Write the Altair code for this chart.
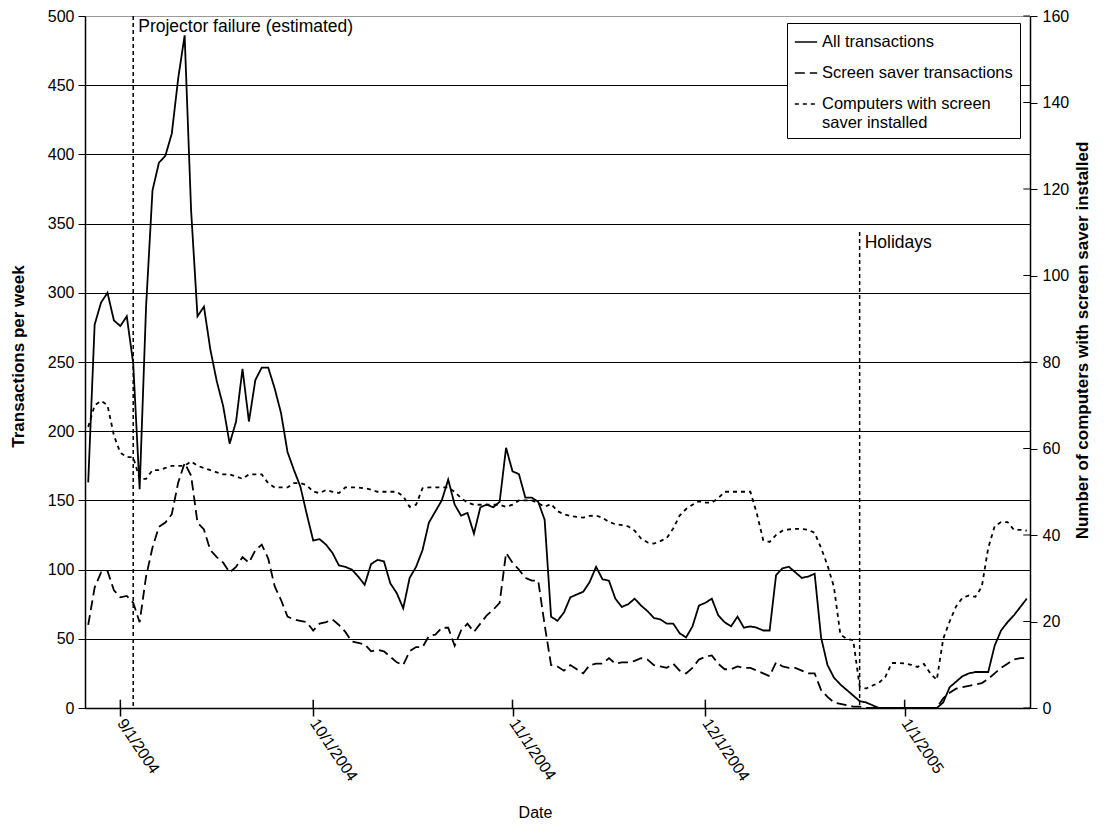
import altair as alt
import pandas as pd

# ---- data (daily values, first day 2004-08-27) ----
start_date = "2004-08-27"

all_tx = [
    163, 277, 293, 300, 280, 276, 283, 249, 158, 290,
    374, 394, 399, 415, 455, 486, 360, 283, 290, 259,
    236, 218, 191, 207, 245, 207, 237, 246, 246, 231,
    213, 185, 172, 160, 140, 121, 122, 118, 112, 103,
    102, 100, 95, 89, 104, 107, 106, 90, 83, 72,
    94, 102, 114, 134, 142, 150, 165, 147, 139, 141,
    126, 145, 147, 145, 149, 188, 171, 169, 152, 152,
    149, 136, 66, 63, 69, 80, 82, 84, 91, 102,
    93, 92, 79, 73, 75, 79, 74, 70, 65, 64,
    61, 61, 54, 51, 59, 74, 76, 79, 67, 62,
    59, 66, 58, 59, 58, 56, 56, 96, 101, 102,
    98, 94, 95, 97, 51, 31, 22, 17, 13, 9,
    5, 4, 2, 0, 0, 0, 0, 0, 0, 0,
    0, 0, 0, 4, 15, 19, 23, 25, 26, 26,
    26, 45, 56, 62, 67, 73, 79,
]

screen_tx = [
    60, 87, 98, 99, 85, 80, 81, 76, 62, 95,
    116, 131, 134, 140, 163, 177, 168, 134, 129, 114,
    109, 105, 98, 102, 109, 105, 114, 118, 108, 88,
    78, 66, 64, 63, 62, 56, 61, 62, 64, 60,
    55, 48, 47, 46, 41, 42, 41, 37, 33, 31,
    41, 44, 44, 52, 53, 58, 58, 45, 56, 61,
    55, 61, 67, 71, 76, 112, 105, 100, 94, 92,
    92, 60, 31, 30, 27, 31, 28, 25, 31, 32,
    32, 36, 32, 33, 33, 34, 36, 35, 31, 30,
    29, 32, 27, 25, 29, 35, 37, 38, 32, 28,
    28, 30, 29, 29, 27, 25, 23, 33, 30, 29,
    29, 27, 25, 25, 13, 8, 4, 3, 2, 1,
    1, 0, 0, 0, 0, 0, 0, 0, 0, 0,
    0, 0, 0, 7, 11, 14, 15, 16, 17, 18,
    21, 25, 29, 32, 35, 36, 36,
]

computers = [
    65, 70, 71, 70, 63, 59, 58, 58, 53, 53,
    55, 55, 55.5, 56, 56, 56, 57, 56, 55.5, 55,
    54.5, 54, 54, 53.5, 53, 54, 54, 54, 52, 51,
    51, 51, 52, 52, 51.5, 50, 49.7, 50.4, 50, 49.7,
    51, 51, 51, 50.8, 50.5, 50, 50, 50, 50, 49,
    46.5, 47, 50.8, 51, 51, 51, 51, 50, 48.5, 47.5,
    47, 47, 47, 47, 47, 46.5, 47, 48, 48, 48,
    47.4, 46.5, 47.2, 45.5, 44.8, 44.4, 44.2, 44, 44.4, 44.5,
    44, 43, 42.5, 42.3, 42, 41, 39.2, 38.3, 38, 38.6,
    39.3, 41.5, 44.5, 46, 47, 47.8, 47.5, 47.5, 48.5, 50,
    50, 50, 50, 50, 45, 38.8, 38.4, 40, 41, 41.3,
    41.4, 41.4, 41.2, 40.5, 37, 33, 28, 17, 16, 15.7,
    5, 4.5, 5.2, 5.8, 7.2, 10.4, 10.4, 10.3, 10, 9.5,
    10.2, 8, 6.5, 16, 20, 23.5, 25.5, 26, 25.7, 28,
    37, 42, 43, 43, 41.2, 41.2, 41,
]

series_names = ["All transactions", "Screen saver transactions",
                "Computers with screen saver installed"]
series_dashes = [[1, 0], [10, 5], [4, 4]]

month_ticks = ["2004-09-01", "2004-10-01", "2004-11-01", "2004-12-01", "2005-01-01"]
left_ticks = [0, 50, 100, 150, 200, 250, 300, 350, 400, 450, 500]
right_ticks = [0, 20, 40, 60, 80, 100, 120, 140, 160]

annot_dates = ["2004-09-03", "2004-12-25"]
annot_labels = ["Projector failure (estimated)", "Holidays"]
annot_tops = [500, 344]

FONT = "Liberation Sans, Arial, sans-serif"

# ---- tables ----
dates = pd.date_range(start_date, periods=len(all_tx), freq="D")
df = pd.DataFrame({
    "date": dates,
    series_names[0]: all_tx,
    series_names[1]: screen_tx,
    series_names[2]: computers,
})
annot_df = pd.DataFrame({
    "date": pd.to_datetime(annot_dates),
    "label": annot_labels,
    "top": annot_tops,
})
tick_df = pd.DataFrame({"date": pd.to_datetime(month_ticks)})
rtick_df = pd.DataFrame({"v": right_ticks})

x_domain = [alt.DateTime(year=2004, month=8, date=26, hours=12),
            alt.DateTime(year=2005, month=1, date=20, hours=12)]
x_scale = alt.Scale(domain=x_domain)
x_axis = alt.Axis(
    title="Date", values=[alt.DateTime(year=int(d[:4]), month=int(d[5:7]), date=int(d[8:]))
                          for d in month_ticks],
    format="%-m/%-d/%Y", labelAngle=56, labelAlign="left", labelBaseline="middle",
    labelFont=FONT, labelFontSize=16, labelColor="black", labelPadding=4,
    titleFont=FONT, titleFontSize=16, titleFontWeight="normal", titleColor="black",
    titleX=450, titleY=104, titleBaseline="middle",
    domainColor="black", domainWidth=1.5, tickColor="black", tickSize=8, tickWidth=1.5,
    grid=False,
)

left_scale = alt.Scale(domain=[0, 500], nice=False)
left_axis = alt.Axis(
    title="Transactions per week", values=left_ticks,
    labelFont=FONT, labelFontSize=16, labelColor="black", labelPadding=4,
    titleFont=FONT, titleFontSize=17, titleFontWeight="bold", titleColor="black",
    titleX=-67, titleY=340, titleBaseline="middle", titleAngle=270,
    domainColor="black", domainWidth=1.5, tickColor="black", tickSize=7, tickWidth=1,
    grid=True, gridWidth=1, gridOpacity=1,
    gridColor=alt.condition("datum.value == 500", alt.value("#999999"), alt.value("black")),
)

right_scale = alt.Scale(domain=[0, 160], nice=False)
right_axis = alt.Axis(
    orient="right", title="Number of computers with screen saver installed",
    values=right_ticks,
    labelFont=FONT, labelFontSize=16, labelColor="black", labelPadding=5,
    titleFont=FONT, titleFontSize=17, titleFontWeight="bold", titleColor="black",
    titleX=52, titleY=324, titleBaseline="middle", titleAngle=270,
    domainColor="black", domainWidth=1.5, tickColor="black", tickSize=7, tickWidth=1,
    grid=False,
)

dash_enc = alt.StrokeDash(
    "series:N",
    scale=alt.Scale(domain=series_names, range=series_dashes),
    legend=alt.Legend(
        title=None, orient="none", legendX=702, legendY=7,
        symbolType="stroke", symbolSize=500, symbolStrokeWidth=1.5,
        symbolStrokeColor="black", labelFont=FONT, labelFontSize=16.5,
        labelColor="black", labelLimit=400, rowPadding=10,
        strokeColor="black", fillColor="white", padding=7,
        labelExpr="datum.label == 'Computers with screen saver installed' ? "
                  "['Computers with screen', 'saver installed'] : datum.label",
    ),
)

base = alt.Chart(df)

left_lines = base.transform_fold(
    series_names[:2], as_=["series", "value"]
).mark_line(color="black", strokeWidth=1.8).encode(
    x=alt.X("date:T", scale=x_scale, axis=x_axis),
    y=alt.Y("value:Q", scale=left_scale, axis=left_axis),
    strokeDash=dash_enc,
)

annot_rules = alt.Chart(annot_df).mark_rule(
    color="black", strokeWidth=1.5, strokeDash=[4, 3]
).encode(
    x="date:T",
    y=alt.Y("top:Q"),
    y2=alt.datum(0),
)

annot_text = alt.Chart(annot_df).mark_text(
    align="left", baseline="top", dx=5, dy=2, font=FONT, fontSize=17.5, color="black"
).encode(
    x="date:T",
    y=alt.Y("top:Q"),
    text="label:N",
)

x_inner_ticks = alt.Chart(tick_df).mark_rule(color="black", strokeWidth=1.5).encode(
    x="date:T", y=alt.datum(0), y2=alt.datum(6),
)

left_layer = alt.layer(left_lines, annot_rules, annot_text, x_inner_ticks)

right_line = base.transform_fold(
    series_names[2:], as_=["series", "value"]
).mark_line(color="black", strokeWidth=1.8).encode(
    x=alt.X("date:T", scale=x_scale, axis=x_axis),
    y=alt.Y("value:Q", scale=right_scale, axis=right_axis),
    strokeDash=dash_enc,
)

right_inner_ticks = alt.Chart(rtick_df).mark_rule(color="black", strokeWidth=1).encode(
    x=alt.datum(x_domain[1]),
    x2=alt.datum(alt.DateTime(year=2005, month=1, date=19, hours=11)),
    y=alt.Y("v:Q"),
)

right_layer = alt.layer(right_line, right_inner_ticks)

chart = alt.layer(left_layer, right_layer).resolve_scale(
    y="independent"
).properties(
    width=945, height=692,
    autosize=alt.AutoSizeParams(type="none"),
    padding={"left": 77, "top": 8, "right": 72, "bottom": 120},
).configure_view(stroke=None).configure(background="white")

chart.save("out.html", embed_options={"renderer": "svg", "actions": False})
